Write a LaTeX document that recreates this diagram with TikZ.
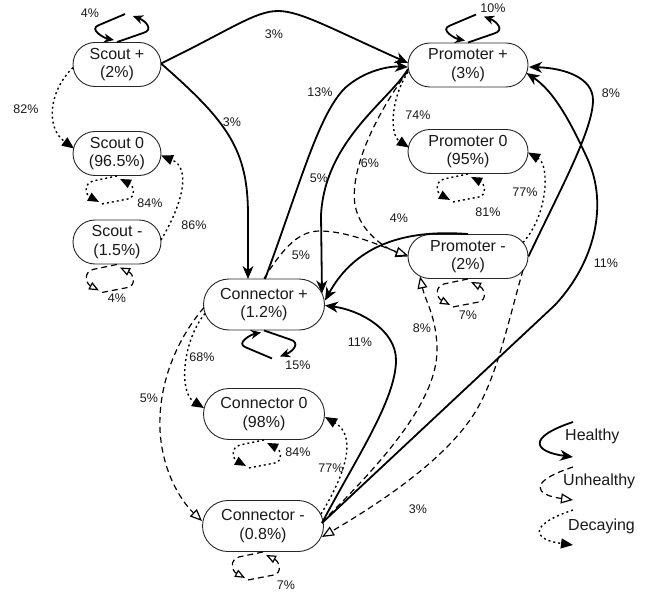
\documentclass[tikz,border=0pt]{standalone}
\usepackage{fontspec}
\setmainfont{Liberation Sans}
\usetikzlibrary{arrows.meta,shapes.misc,calc}
\newcommand{\mkloop}[2]{%
  \begin{scope}[#2]
    \draw[#1] (0,0) -- (26,-9) .. controls (37,-12) and (29,-21) .. (16,-26);
    \draw[#1] (8,-28) -- (-18,-17) .. controls (-29,-13) and (-13,-4) .. (-3,-2);
  \end{scope}}
\newcommand{\mkloopdown}[2]{%
  \begin{scope}[shift={(#2)}]
    \draw[#1] (0,0) -- (-24,5) .. controls (-34,8) and (-31,19) .. (-18,26);
    \draw[#1] (-15,28) -- (11,23) .. controls (19,21) and (17,10) .. (3,3);
  \end{scope}}
\begin{document}
\begin{tikzpicture}[x=1pt,y=-1pt,
  every node/.style={text=black!90},
  box/.style={rounded rectangle, draw=black!85, line width=0.9pt, inner sep=0pt, align=center, font=\fontsize{16}{18.5}\selectfont, fill=white},
  scoutbox/.style={box, minimum width=88pt, minimum height=44pt},
  prombox/.style={box, minimum width=120pt, minimum height=44pt},
  connbox/.style={box, minimum width=121pt, minimum height=51pt},
  lbl/.style={font=\fontsize{12.5}{14}\selectfont, inner sep=0pt},
  legtxt/.style={font=\fontsize{16}{18}\selectfont, inner sep=0pt, anchor=base west},
  healthy/.style={draw=black, line width=1.8pt, -{Stealth[length=13pt,width=11pt,inset=4pt]}},
  unhealthy/.style={draw=black, line width=1.2pt, dash pattern=on 6pt off 4pt, -{Triangle[open,length=12pt,width=10pt,fill=white,line width=1.2pt]}},
  decaying/.style={draw=black, line width=1.4pt, dash pattern=on 2pt off 3pt, -{Triangle[length=12pt,width=10pt]}},
  hloop/.style={healthy, -{Stealth[length=10pt,width=9pt,inset=3pt]}},
  uloop/.style={unhealthy, -{Triangle[open,length=10pt,width=8pt,fill=white,line width=1.2pt]}},
  dloop/.style={decaying, -{Triangle[length=11pt,width=9pt]}},
]
\fill[white] (0,0) rectangle (656,594);
\path[use as bounding box] (0,0) rectangle (656,594);

% nodes
\node[scoutbox] (sp) at (117,64.5) {Scout +\\(2\%)};
\node[scoutbox] (s0) at (117,153.5) {Scout 0\\(96.5\%)};
\node[scoutbox] (sm) at (117,242) {Scout -\\(1.5\%)};
\node[prombox] (pp) at (468,65) {Promoter +\\(3\%)};
\node[prombox] (p0) at (468,151.5) {Promoter 0\\(95\%)};
\node[prombox] (pm) at (468,256.5) {Promoter -\\(2\%)};
\node[connbox] (cp) at (264,304.5) {Connector +\\(1.2\%)};
\node[connbox] (c0) at (264,414) {Connector 0\\(98\%)};
\node[connbox] (cm) at (263,526) {Connector -\\(0.8\%)};

% healthy edges
\draw[healthy] ($(sp)+(44,-1)$) .. controls (230,30) and (255,11) .. (278,11) .. controls (300,11) and (330,28) .. ($(pp)+(-60,-2)$);
\draw[healthy] ($(sp)+(44,-1)$) .. controls (228,122) and (248,150) .. (248,215) -- ($(cp)+(-16,-25.5)$);
\draw[healthy] ($(cp)+(1,-25.5)$) .. controls (300,185) and (318,115) .. (345,88) .. controls (365,70) and (390,66) .. ($(pp)+(-60,2)$);
\draw[healthy] ($(pp)+(-60,4)$) .. controls (390,100) and (325,140) .. (321,215) -- ($(cp)+(58,-11)$);
\draw[healthy] (pm.north) .. controls (390,228) and (350,255) .. ($(cp)+(61,-4)$);
\draw[healthy] (pm.east) .. controls (560,190) and (593,130) .. (593,100) .. controls (593,78) and (565,68) .. ($(pp)+(61,2)$);
\draw[healthy] ($(cm)+(59,-3)$) -- (555,305) .. controls (595,262) and (608,205) .. (588,160) .. controls (572,125) and (555,92) .. ($(pp)+(58.5,8)$);
\draw[healthy] ($(cm)+(59,-3)$) .. controls (355,460) and (396,400) .. (396,360) .. controls (396,330) and (360,310) .. ($(cp)+(61,1)$);

% unhealthy edges
\draw[unhealthy] ($(pp)+(-60,6)$) .. controls (372,120) and (350,172) .. (355,205) .. controls (360,232) and (385,248) .. (pm.west);
\draw[unhealthy] (cp.north) .. controls (285,245) and (300,231) .. (320,231) .. controls (350,231) and (385,248) .. ($(pm)+(-60,-1)$);
\draw[unhealthy] ($(cm)+(59,-4)$) .. controls (385,460) and (437,400) .. (437,350) .. controls (437,318) and (425,300) .. ($(pm)+(-48,20)$);
\draw[unhealthy] ($(pm)+(55,13.5)$) .. controls (506,330) and (495,385) .. (470,420) .. controls (440,462) and (385,500) .. ($(cm)+(59,11)$);
\draw[unhealthy] ($(cp)+(-60,3)$) .. controls (176,340) and (158,385) .. (160,430) .. controls (162,470) and (180,500) .. ($(cm)+(-61,-5)$);

% decaying edges
\draw[decaying] ($(sp)+(-44,3)$) .. controls (48,92) and (46,128) .. ($(s0)+(-43,-5)$);
\draw[decaying] ($(sm)+(44,-2)$) .. controls (182,205) and (192,168) .. ($(s0)+(44,2)$);
\draw[decaying] ($(pp)+(-60,7)$) .. controls (390,100) and (390,135) .. ($(p0)+(-59,-4)$);
\draw[decaying] ($(pm)+(55,-14)$) .. controls (548,215) and (550,165) .. ($(p0)+(60,1)$);
\draw[decaying] ($(cp)+(-59,9)$) .. controls (183,340) and (178,392) .. ($(c0)+(-60,-6)$);
\draw[decaying] ($(cm)+(58,-12)$) .. controls (348,470) and (356,435) .. ($(c0)+(61,3)$);

% self loops
\mkloop{hloop}{shift={(sp.north)}}
\mkloop{hloop}{shift={(pp.north)}}
\mkloop{hloop}{shift={(cp.south)},yscale=-1}
\mkloopdown{dloop}{s0.south}
\mkloopdown{dloop}{p0.south}
\mkloopdown{dloop}{c0.south}
\mkloopdown{uloop}{sm.south}
\mkloopdown{uloop}{pm.south}
\mkloopdown{uloop}{cm.south}

% labels
\node[lbl] (t1) at (90,13) {4\%};
\node[lbl] (t2) at (274,34) {3\%};
\node[lbl] (t3) at (26,109) {82\%};
\node[lbl] (t4) at (232,122) {3\%};
\node[lbl] (t5) at (150,203) {84\%};
\node[lbl] (t6) at (194,225) {86\%};
\node[lbl] (t7) at (117,298) {4\%};
\node[lbl] (t8) at (493,8) {10\%};
\node[lbl] (t9) at (320,92) {13\%};
\node[lbl] (t10) at (418,115) {74\%};
\node[lbl] (t11) at (319,178) {5\%};
\node[lbl] (t12) at (370,163) {6\%};
\node[lbl] (t13) at (399,218) {4\%};
\node[lbl] (t14) at (301,255) {5\%};
\node[lbl] (t15) at (488,212) {81\%};
\node[lbl] (t16) at (525,192) {77\%};
\node[lbl] (t17) at (468,315) {7\%};
\node[lbl] (t18) at (611,93) {8\%};
\node[lbl] (t19) at (606,263) {11\%};
\node[lbl] (t20) at (422,328) {8\%};
\node[lbl] (t21) at (298,365) {15\%};
\node[lbl] (t22) at (202,357) {68\%};
\node[lbl] (t23) at (360,342) {11\%};
\node[lbl] (t24) at (149,398) {5\%};
\node[lbl] (t25) at (298,452) {84\%};
\node[lbl] (t26) at (331,468) {77\%};
\node[lbl] (t27) at (418,509) {3\%};
\node[lbl] (t28) at (286,585) {7\%};

% legend
\coordinate (lh1) at (573,422); \coordinate (lh2) at (573,457);
\coordinate (lu1) at (573,467); \coordinate (lu2) at (573,500);
\coordinate (ld1) at (573,510); \coordinate (ld2) at (573,545);
\draw[healthy] (lh1) .. controls (525,438) and (535,452) .. (lh2);
\draw[unhealthy] (lu1) .. controls (527,482) and (535,495) .. (lu2);
\draw[decaying] (ld1) .. controls (525,526) and (535,540) .. (ld2);
\node[legtxt] (lgt1) at (565,440) {Healthy};
\node[legtxt] (lgt2) at (563,485) {Unhealthy};
\node[legtxt] (lgt3) at (568,530) {Decaying};
\end{tikzpicture}
\end{document}
